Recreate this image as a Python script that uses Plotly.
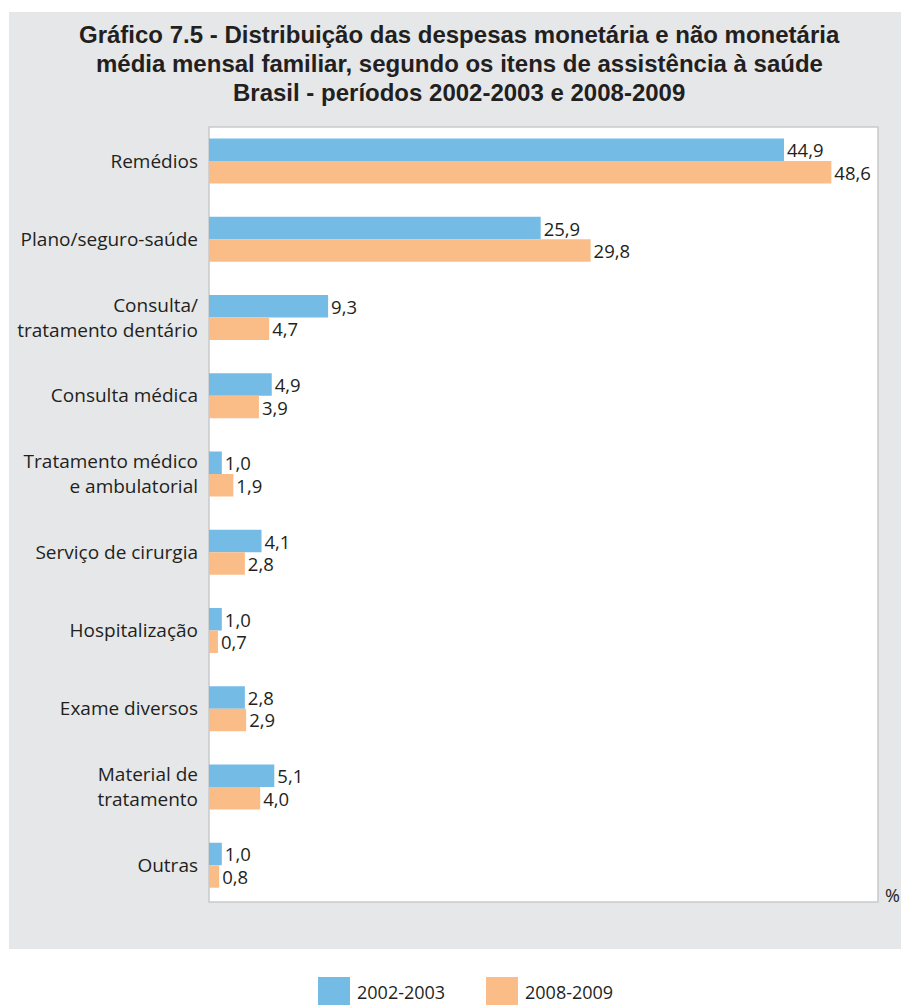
import plotly.graph_objects as go

categories = [
    "Remédios",
    "Plano/seguro-saúde",
    "Consulta/<br>tratamento dentário",
    "Consulta médica",
    "Tratamento médico<br>e ambulatorial",
    "Serviço de cirurgia",
    "Hospitalização",
    "Exame diversos",
    "Material de<br>tratamento",
    "Outras",
]
values_2002_2003 = [44.9, 25.9, 9.3, 4.9, 1.0, 4.1, 1.0, 2.8, 5.1, 1.0]
values_2008_2009 = [48.6, 29.8, 4.7, 3.9, 1.9, 2.8, 0.7, 2.9, 4.0, 0.8]
series_names = ["2002-2003", "2008-2009"]
title_lines = [
    "Gráfico 7.5 - Distribuição das despesas monetária e não monetária",
    "média mensal familiar, segundo os itens de assistência à saúde",
    "Brasil - períodos 2002-2003 e 2008-2009",
]

BLUE = "#74bbe6"
ORANGE = "#fbbd88"
PANEL = "#e6e7e9"
TEXT = "#231f20"
FONT = "Open Sans, Liberation Sans, Arial, sans-serif"
TFONT = "Liberation Sans, Arial, sans-serif"

W, H = 901, 1005
L, R, T, B = 209, 23, 127, 103
PW = W - L - R
PH = H - T - B


def px2x(px):
    return (px - L) / PW


def px2y(py):
    return (H - B - py) / PH


fig = go.Figure()
for name, vals, col in [
    (series_names[0], values_2002_2003, BLUE),
    (series_names[1], values_2008_2009, ORANGE),
]:
    fig.add_trace(
        go.Bar(
            y=categories,
            x=vals,
            name=name,
            orientation="h",
            marker=dict(color=col, line=dict(width=0)),
            texttemplate="%{x:.1f}",
            textposition="outside",
            constraintext="none",
            cliponaxis=False,
            textfont=dict(family=FONT, size=18.5, color=TEXT),
            showlegend=False,
        )
    )

shapes = [
    dict(type="rect", xref="paper", yref="paper", x0=px2x(9), x1=px2x(905),
         y0=px2y(949), y1=px2y(12), fillcolor=PANEL, line=dict(width=0), layer="below"),
    dict(type="rect", xref="paper", yref="paper", x0=0, x1=1, y0=0, y1=1,
         fillcolor="white", line=dict(color="#c9cacc", width=1.5), layer="below"),
]

annotations = [
    dict(text="%", xref="paper", yref="paper", x=px2x(892), y=px2y(895),
         showarrow=False, font=dict(family=FONT, size=18, color=TEXT),
         xanchor="center", yanchor="middle"),
]

for line, base in zip(title_lines, [43, 72, 101]):
    annotations.append(dict(text="<b>" + line + "</b>", xref="paper", yref="paper",
                            x=px2x(459), y=px2y(base - 8.3), showarrow=False,
                            xanchor="center", yanchor="middle",
                            font=dict(family=TFONT, size=24, color=TEXT)))

legend_items = [(series_names[0], BLUE, 318), (series_names[1], ORANGE, 486)]
for name, col, x0 in legend_items:
    shapes.append(dict(type="rect", xref="paper", yref="paper", x0=px2x(x0), x1=px2x(x0 + 32),
                       y0=px2y(1010), y1=px2y(977), fillcolor=col, line=dict(width=0)))
    annotations.append(dict(text=name, xref="paper", yref="paper", x=px2x(x0 + 37),
                            y=px2y(992), showarrow=False, xanchor="left", yanchor="middle",
                            font=dict(family=FONT, size=18, color=TEXT)))

fig.update_layout(
    width=W,
    height=H,
    margin=dict(l=L, r=R, t=T, b=B, autoexpand=False),
    paper_bgcolor="white",
    plot_bgcolor="rgba(0,0,0,0)",
    separators=",.",
    barmode="group",
    bargap=0.425,
    bargroupgap=0,
    hovermode=False,
    xaxis=dict(range=[0, PW / 12.806], visible=False, showgrid=False, zeroline=False,
               fixedrange=True, automargin=False),
    yaxis=dict(
        categoryorder="array",
        categoryarray=categories,
        range=[9.47, -0.435],
        showgrid=False,
        zeroline=False,
        showline=False,
        ticks="",
        ticklabelstandoff=10,
        automargin=False,
        fixedrange=True,
        tickfont=dict(family=FONT, size=19, color=TEXT),
    ),
    shapes=shapes,
    annotations=annotations,
)

fig.write_html(
    "out.html",
    config={"displayModeBar": False, "staticPlot": True},
    post_script="document.body.style.margin='0';document.body.style.overflow='hidden';",
)
